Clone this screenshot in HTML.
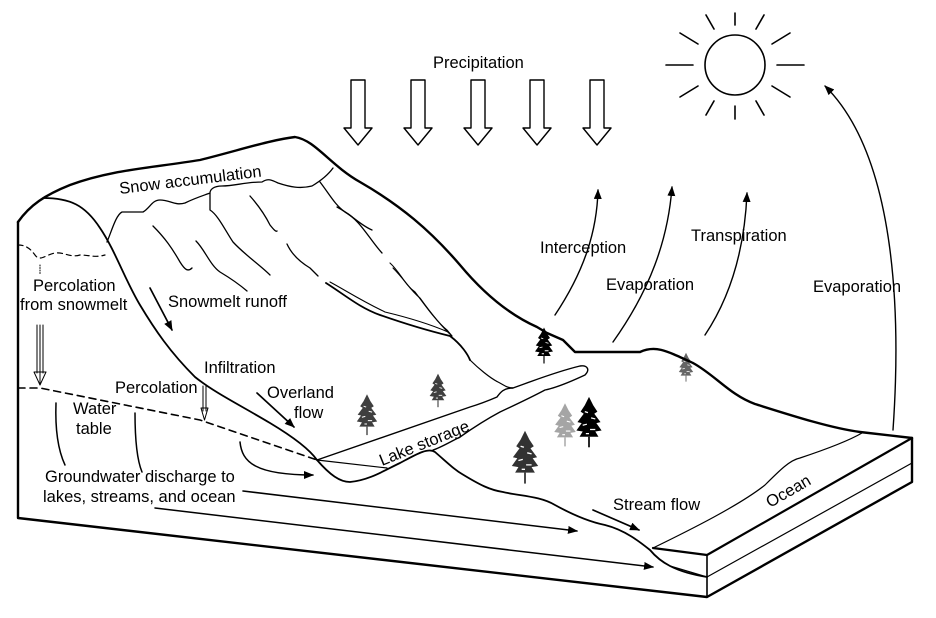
<!DOCTYPE html>
<html><head><meta charset="utf-8"><style>
html,body{margin:0;padding:0;background:#fff;}
svg{display:block;}
text{font-family:"Liberation Sans",Arial,sans-serif;font-size:16.5px;fill:#000;}
</style></head><body>
<svg width="936" height="618" viewBox="0 0 936 618" xmlns="http://www.w3.org/2000/svg">
<defs>
<marker id="ah" markerWidth="10" markerHeight="8" refX="9" refY="4" orient="auto" markerUnits="userSpaceOnUse">
<path d="M0,0 L10,4 L0,8 Z" fill="#000"/></marker>
<g id="tree">
<path d="M0,-22 L-4,-14 L-8,-8 L-5,-6 L-11,2 L-7,3 L-12,10 L-6,11 L-9,16 L9,16 L6,11 L12,10 L7,3 L11,2 L5,-6 L8,-8 L4,-14 Z" fill="#000"/>
<path d="M-4,-8 l3,1 M2,-2 l4,1 M-6,5 l4,-1 M1,9 l5,0 M-3,13 l3,0" stroke="#fff" stroke-width="1.2"/>
<line x1="0" y1="16" x2="0" y2="26" stroke="#000" stroke-width="1.6"/>
</g>
</defs>
<g fill="none" stroke="#000" stroke-linecap="round" stroke-linejoin="round">
<g stroke-width="1.4">
<path d="M351,80 L365,80 L365,128 L372,128 L358,145 L344,128 L351,128 Z"/>
<path d="M411,80 L425,80 L425,128 L432,128 L418,145 L404,128 L411,128 Z"/>
<path d="M471,80 L485,80 L485,128 L492,128 L478,145 L464,128 L471,128 Z"/>
<path d="M530,80 L544,80 L544,128 L551,128 L537,145 L523,128 L530,128 Z"/>
<path d="M590,80 L604,80 L604,128 L611,128 L597,145 L583,128 L590,128 Z"/>
</g>
<circle cx="735" cy="65" r="30" stroke-width="1.6"/>
<g stroke-width="1.6">
<line x1="735" y1="13" x2="735" y2="25"/><line x1="735" y1="106" x2="735" y2="119"/>
<line x1="666" y1="65" x2="693" y2="65"/><line x1="777" y1="65" x2="804" y2="65"/>
<line x1="706" y1="15" x2="714" y2="29"/><line x1="764" y1="15" x2="756" y2="29"/>
<line x1="706" y1="115" x2="714" y2="101"/><line x1="764" y1="115" x2="756" y2="101"/>
<line x1="680" y1="33" x2="698" y2="44"/><line x1="790" y1="33" x2="772" y2="44"/>
<line x1="680" y1="97" x2="698" y2="86"/><line x1="790" y1="97" x2="772" y2="86"/>
</g>
<g stroke-width="1.4">
<path d="M555,315 C585,270 597,230 598,190" marker-end="url(#ah)"/>
<path d="M613,342 C650,290 668,240 672,187" marker-end="url(#ah)"/>
<path d="M705,335 C735,290 745,240 747,193" marker-end="url(#ah)"/>
<path d="M893,430 C900,330 900,160 825,86" marker-end="url(#ah)"/>
</g>
<path d="M18,222 C30,205 45,195 70,185 C110,170 150,168 200,160 C240,150 270,140 295,137 C315,140 330,165 360,182 C400,205 430,230 460,265 C485,295 510,315 537,327 L547,333 L563,340 L575,352 L640,352 C655,345 665,350 693,363 C715,375 730,395 755,404 C790,415 830,428 860,432 L912,438" stroke-width="2.4"/>
<path d="M18,222 L18,518 L707,597 L912,482 L912,438" stroke-width="2.4"/>
<path d="M653,548 L707,555 L912,438" stroke-width="2.2"/>
<line x1="707" y1="555" x2="707" y2="597" stroke-width="1.6"/>
<path d="M670,566 L707,577 L912,463" stroke-width="1.2"/>
<path d="M653,548 C690,530 740,505 765,485 C780,470 790,460 800,458 C830,448 850,440 862,433" stroke-width="1.2"/>
<path d="M317,460 C330,475 340,482 350,482 C370,480 385,470 400,463 C415,455 428,447 435,452 C450,465 455,470 462,474 C480,485 490,490 503,492 C520,496 540,496 555,505 C575,516 590,522 605,525 C625,530 640,542 650,550 C660,562 675,572 707,577" stroke-width="1.8"/>
<path d="M43,198 C70,198 85,205 100,228 C115,250 125,280 140,305 C155,330 170,352 195,377 C215,393 240,405 270,423 C295,438 310,450 317,460" stroke-width="1.8"/>
<path d="M107,242 C112,230 116,215 122,212 L143,212 C150,208 152,200 160,200 C170,200 175,206 185,203 C195,198 205,195 210,193 C210,190 213,186 222,186 C235,186 245,182 262,182 C268,178 272,180 278,183 C290,187 300,189 312,186 C322,180 328,175 333,168" stroke-width="1.3"/>
<path d="M210,193 L210,210 C218,215 225,230 233,242 C245,255 260,265 270,275" stroke-width="1.3"/>
<path d="M320,182 C330,195 335,205 345,212 C360,220 370,240 382,253" stroke-width="1.3"/>
<path d="M326,283 C345,295 360,308 380,315 C400,322 425,330 450,336 C462,345 468,355 470,360" stroke-width="1.8"/>
<path d="M390,263 C400,272 405,285 415,292 C425,305 435,320 447,330 L452,336 L448,332 C432,325 410,318 385,312 C360,300 345,290 330,282" stroke-width="1.1"/>
<path d="M393,268 C405,280 410,290 420,298 C430,312 440,325 452,336" stroke-width="1.1"/>
<g stroke-width="1.3">
<path d="M153,226 C165,238 172,248 180,262 C185,270 188,272 192,268"/>
<path d="M196,241 C205,250 210,265 220,272 C230,278 240,285 247,291"/>
<path d="M250,196 C258,205 265,215 270,225 C274,230 276,232 277,231"/>
<path d="M287,244 C292,255 300,262 310,268 C315,273 318,276 318,276"/>
<path d="M337,207 C352,215 360,225 372,230"/>
</g>
<path d="M317,460 L470,407 C480,404 490,400 497,397 C500,393 503,388 513,388 C530,382 555,372 580,366 C588,365 590,370 585,375 C570,382 555,388 545,390 C530,398 515,405 500,412 C485,420 470,430 460,437 C450,442 440,448 433,450" stroke-width="1.4"/>
<path d="M317,460 L387,468" stroke-width="1.2"/>
<path d="M470,360 C478,368 490,378 498,382 C504,385 507,388 513,388" stroke-width="1.2"/>
<path d="M18,245 C25,245 30,248 35,255 C40,262 45,255 55,253 C65,252 70,258 80,255 C90,255 95,258 105,255" stroke-width="1.2" stroke-dasharray="5,4"/>
<path d="M18,388 L40,388 L200,420 L317,460" stroke-width="1.6" stroke-dasharray="7,5"/>
<path d="M40,265 L40,275" stroke-width="1" stroke-dasharray="1,1.5"/>
<path d="M40,325 L40,383 M37,325 L37,373 M43,325 L43,373 M34,372 L40,385 L46,372 Z" stroke-width="1"/>
<path d="M203,386 L203,411 M206,386 L206,411 M201,408 L204.5,420 L208,408 Z" stroke-width="1"/>
<path d="M56,403 C55,430 58,450 65,465" stroke-width="1.5"/>
<path d="M135,413 C135,440 137,460 142,472" stroke-width="1.5"/>
<path d="M240,442 C242,462 255,475 313,475" stroke-width="1.5" marker-end="url(#ah)"/>
<path d="M243,491 L577,531" stroke-width="1.5" marker-end="url(#ah)"/>
<path d="M155,508 L653,567" stroke-width="1.5" marker-end="url(#ah)"/>
<path d="M150,288 L172,330" stroke-width="1.7" marker-end="url(#ah)"/>
<path d="M257,393 L294,427" stroke-width="1.7" marker-end="url(#ah)"/>
<path d="M593,510 L639,530" stroke-width="1.7" marker-end="url(#ah)"/>
</g>
<use href="#tree" transform="translate(544,344) scale(0.75)"/>
<use href="#tree" transform="translate(686,366) scale(0.6)" opacity="0.6"/>
<use href="#tree" transform="translate(589,420) scale(1.05)"/>
<use href="#tree" transform="translate(565,423) scale(0.9)" opacity="0.35"/>
<use href="#tree" transform="translate(525,455) scale(1.1)" opacity="0.8"/>
<use href="#tree" transform="translate(367,413) scale(0.85)" opacity="0.75"/>
<use href="#tree" transform="translate(438,389) scale(0.7)" opacity="0.75"/>
<text x="433" y="68">Precipitation</text>
<text x="540" y="253">Interception</text>
<text x="606" y="290">Evaporation</text>
<text x="691" y="241">Transpiration</text>
<text x="813" y="292">Evaporation</text>
<text x="120" y="194" transform="rotate(-7 120 194)">Snow accumulation</text>
<text x="33" y="291">Percolation</text>
<text x="20" y="310">from snowmelt</text>
<text x="168" y="307">Snowmelt runoff</text>
<text x="204" y="373">Infiltration</text>
<text x="115" y="393">Percolation</text>
<text x="73" y="414">Water</text>
<text x="76" y="434">table</text>
<text x="267" y="398">Overland</text>
<text x="294" y="418">flow</text>
<text x="45" y="482">Groundwater discharge to</text>
<text x="43" y="502">lakes, streams, and ocean</text>
<text x="382" y="466" transform="rotate(-22 382 466)">Lake storage</text>
<text x="613" y="510">Stream flow</text>
<text x="770" y="508" transform="rotate(-30 770 508)">Ocean</text>
</svg>
</body></html>
